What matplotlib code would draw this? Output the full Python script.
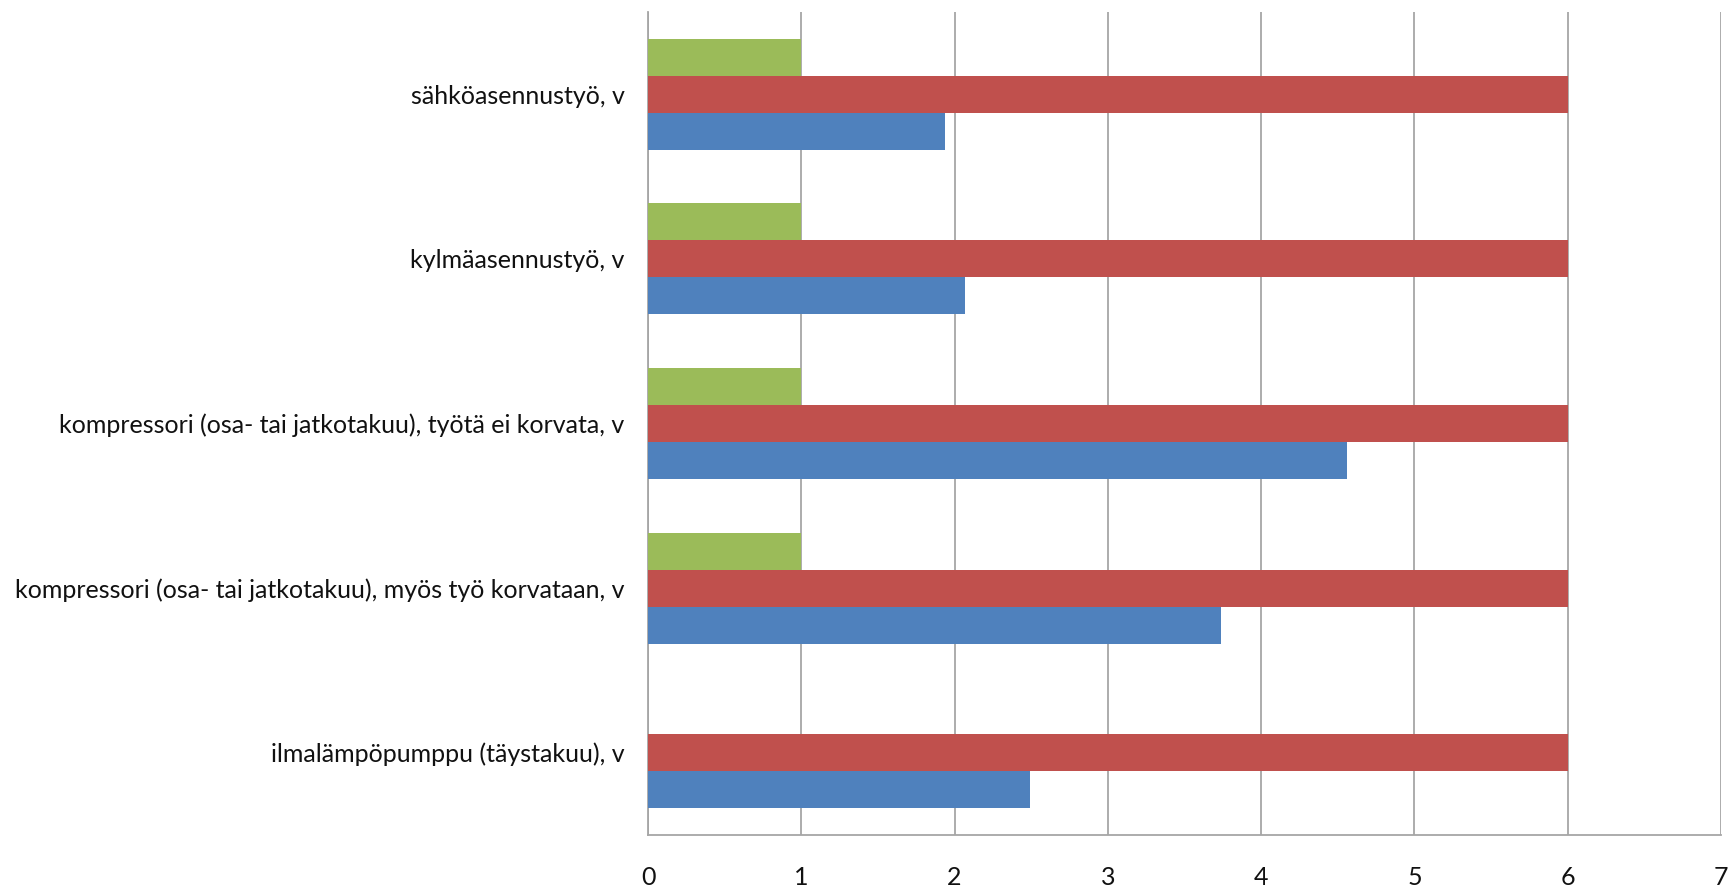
import numpy as np
import matplotlib
matplotlib.use('Agg')
import matplotlib.pyplot as plt

# kategoriat alhaalta ylös
categories = ['ilmalämpöpumppu (täystakuu), v',
              'kompressori (osa- tai jatkotakuu), myös työ korvataan, v',
              'kompressori (osa- tai jatkotakuu), työtä ei korvata, v',
              'kylmäasennustyö, v',
              'sähköasennustyö, v']
blue_vals = [2.49, 3.74, 4.56, 2.07, 1.94]
red_vals = [6, 6, 6, 6, 6]
green_vals = [np.nan, 1, 1, 1, 1]
x_ticks = [0, 1, 2, 3, 4, 5, 6, 7]

plt.rcParams['font.family'] = ['Lato', 'DejaVu Sans']

fig = plt.figure(figsize=(17.31, 8.90), dpi=100)
ax = fig.add_axes([0.3744, 0.0618, 0.6198, 0.9247])

y = np.arange(len(categories))
h = 0.225

ax.barh(y - h, blue_vals, height=h, color='#4F81BD', zorder=3)
ax.barh(y, red_vals, height=h, color='#C0504D', zorder=3)
ax.barh(y + h, green_vals, height=h, color='#9BBB59', zorder=3)

ax.set_xlim(0, 7)
ax.set_ylim(-0.5, 4.5)
ax.set_xticks(x_ticks)
ax.set_yticks(y)
ax.set_yticklabels(categories)

ax.grid(axis='x', color='#A6A6A6', linewidth=1.3, zorder=0)
for s in ['top', 'right']:
    ax.spines[s].set_visible(False)
for s in ['left', 'bottom']:
    ax.spines[s].set_color('#A6A6A6')
    ax.spines[s].set_linewidth(1.3)

ax.tick_params(axis='both', length=0, labelsize=18, colors='#111111')
ax.tick_params(axis='y', pad=17)
ax.tick_params(axis='x', pad=22)

fig.savefig('out.png', dpi=100)
